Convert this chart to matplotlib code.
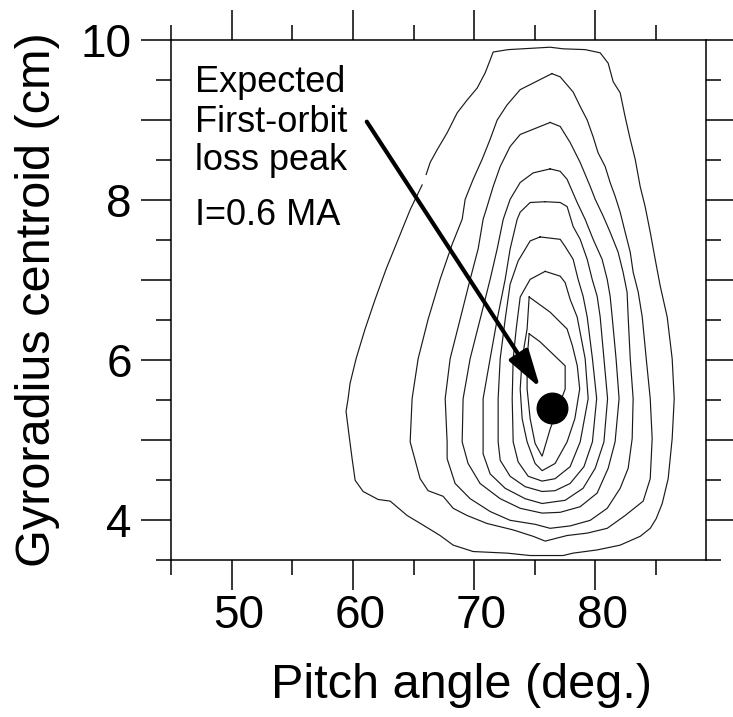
import matplotlib
matplotlib.use('Agg')
import matplotlib.pyplot as plt
import matplotlib.transforms as mtransforms
from matplotlib.patches import FancyArrowPatch
from matplotlib.ticker import FixedLocator, FuncFormatter

plt.rcParams['font.family'] = ['Liberation Sans', 'DejaVu Sans']

# contour rings of the loss distribution, outermost first (pitch deg, gyroradius cm)
ring1_pitch = [66.03, 66.36, 66.94, 67.76, 68.59, 69.41, 70.24, 70.90, 71.31, 71.56, 72.80, 76.26, 77.33, 79.15,
               80.39, 81.05, 81.46, 82.04, 82.45, 82.87, 83.28, 83.69, 84.10, 84.52, 84.93, 85.34, 85.92, 86.33,
               86.50, 86.33, 86.00, 85.51, 85.01, 84.52, 83.69, 82.04, 80.14, 78.16, 77.33, 75.43, 74.61, 72.71,
               69.91, 68.26, 67.18, 65.78, 64.46, 63.06, 62.07, 60.83, 60.17, 59.92, 59.67, 59.42, 59.59, 59.75,
               60.25, 60.99, 61.82, 62.73, 63.72, 64.71, 65.70]
ring1_gyro = [8.32, 8.47, 8.63, 8.84, 9.09, 9.25, 9.40, 9.59, 9.75, 9.85, 9.88, 9.91, 9.89, 9.88,
              9.84, 9.71, 9.48, 9.34, 9.04, 8.76, 8.51, 8.17, 7.92, 7.60, 7.26, 6.93, 6.54, 6.02,
              5.52, 5.02, 4.52, 4.21, 4.02, 3.90, 3.80, 3.69, 3.63, 3.59, 3.56, 3.56, 3.56, 3.59,
              3.61, 3.69, 3.81, 3.94, 4.06, 4.24, 4.26, 4.36, 4.50, 4.77, 5.06, 5.36, 5.52, 5.71,
              6.02, 6.39, 6.76, 7.14, 7.51, 7.88, 8.19]

ring2_pitch = [76.40, 77.09, 78.16, 78.74, 79.32, 79.81, 80.22, 80.80, 81.21, 81.62, 82.04, 82.45, 82.87, 83.11,
               83.53, 83.86, 84.19, 84.52, 84.68, 84.52, 83.94, 82.45, 80.97, 79.32, 77.66, 75.85, 74.86, 73.21,
               71.06, 69.41, 68.26, 67.43, 66.19, 65.53, 64.71, 64.87, 65.37, 66.19, 67.18, 68.18, 69.00, 69.25,
               69.91, 70.65, 71.31, 71.89, 72.71, 73.79]
ring2_gyro = [9.58, 9.54, 9.35, 9.17, 9.00, 8.79, 8.59, 8.42, 8.22, 8.05, 7.85, 7.60, 7.35, 7.10,
              6.85, 6.54, 6.02, 5.52, 5.02, 4.52, 4.24, 4.06, 3.90, 3.84, 3.81, 3.74, 3.80, 3.88,
              3.96, 4.06, 4.15, 4.30, 4.37, 4.52, 4.98, 5.52, 6.02, 6.51, 7.01, 7.45, 7.76, 8.01,
              8.26, 8.51, 8.76, 9.00, 9.19, 9.38]

ring3_pitch = [76.26, 77.09, 77.91, 78.74, 79.57, 79.98, 80.64, 81.21, 81.87, 82.28, 82.61, 82.70, 82.87, 83.11,
               83.03, 82.70, 82.04, 80.97, 79.57, 77.91, 76.26, 75.02, 72.96, 71.31, 69.66, 68.42, 67.76, 67.76,
               67.60, 68.01, 68.83, 69.66, 70.32, 70.73, 71.06, 71.56, 72.14, 72.96, 73.79]
ring3_gyro = [8.97, 8.92, 8.72, 8.47, 8.17, 8.01, 7.80, 7.60, 7.35, 7.10, 6.85, 6.54, 6.02, 5.52,
              5.02, 4.65, 4.40, 4.15, 4.00, 3.93, 3.90, 3.95, 4.00, 4.11, 4.27, 4.46, 4.77, 4.98,
              5.52, 6.02, 6.51, 7.01, 7.39, 7.76, 7.92, 8.17, 8.42, 8.67, 8.82]

ring4_pitch = [76.26, 77.09, 77.66, 78.49, 79.15, 79.81, 80.55, 80.97, 81.21, 81.38, 81.70, 81.95, 81.62, 81.05,
               80.14, 78.74, 77.09, 75.60, 73.79, 72.14, 70.48, 69.49, 69.00, 69.08, 69.66, 70.48, 71.31, 71.89,
               72.39, 72.96, 73.79, 74.86]
ring4_gyro = [8.39, 8.36, 8.26, 7.97, 7.76, 7.51, 7.26, 7.01, 6.80, 6.54, 6.02, 5.52, 4.98, 4.65,
              4.34, 4.17, 4.10, 4.09, 4.15, 4.27, 4.46, 4.71, 4.98, 5.52, 6.02, 6.51, 7.01, 7.39,
              7.76, 8.01, 8.22, 8.34]

ring5_pitch = [75.85, 77.09, 77.66, 78.16, 78.74, 79.32, 79.73, 80.14, 80.39, 80.70, 81.00, 80.70, 79.98, 78.98,
               77.50, 75.60, 74.20, 72.55, 71.31, 70.73, 70.73, 70.73, 71.31, 71.89, 72.55, 72.96, 73.54, 73.79,
               74.61]
ring5_gyro = [7.98, 7.97, 7.92, 7.67, 7.51, 7.26, 7.01, 6.80, 6.54, 6.02, 5.52, 4.98, 4.65, 4.40,
              4.25, 4.21, 4.27, 4.40, 4.58, 4.83, 4.98, 5.52, 6.02, 6.51, 7.01, 7.39, 7.76, 7.85,
              7.97]

ring6_pitch = [75.43, 77.09, 77.50, 78.16, 78.57, 78.98, 79.32, 79.75, 80.10, 79.75, 79.05, 77.91, 76.67, 75.60,
               74.20, 72.96, 72.14, 71.97, 71.97, 72.14, 72.55, 72.96, 73.62, 74.61]
ring6_gyro = [7.54, 7.51, 7.42, 7.26, 7.01, 6.80, 6.54, 6.02, 5.52, 4.98, 4.67, 4.46, 4.37, 4.36,
              4.42, 4.55, 4.75, 4.98, 5.52, 6.02, 6.51, 6.95, 7.24, 7.49]

ring7_pitch = [75.85, 77.09, 77.50, 77.91, 78.49, 79.15, 79.40, 78.74, 77.91, 76.67, 75.60, 74.45, 73.62, 73.21,
               73.13, 73.21, 73.46, 73.79, 74.61]
ring7_gyro = [7.11, 7.05, 6.97, 6.76, 6.54, 6.02, 5.52, 4.98, 4.67, 4.52, 4.49, 4.55, 4.73, 4.98,
              5.52, 6.02, 6.39, 6.79, 7.01]

ring8_pitch = [74.53, 76.26, 77.66, 78.10, 78.50, 78.70, 78.30, 77.66, 76.67, 75.60, 75.02, 74.36, 73.95, 73.79,
               73.95, 74.36]
ring8_gyro = [6.79, 6.60, 6.39, 6.18, 5.93, 5.64, 5.27, 4.98, 4.71, 4.62, 4.71, 4.98, 5.27, 5.64,
              6.02, 6.39]

ring9_pitch = [74.53, 75.43, 77.50, 77.50, 76.26, 75.60, 75.02, 74.61, 74.36, 74.36]
ring9_gyro = [6.33, 6.23, 5.93, 5.64, 5.14, 4.80, 4.96, 5.27, 5.64, 6.02]

# measured peak and the expected first-orbit loss point
peak_pitch = [76.4]
peak_gyro = [5.4]
arrow_from = (61.13, 8.98)
arrow_to = (75.44, 5.655)

x_major = [50, 60, 70, 80]
x_minor = [45, 55, 65, 75, 85]
y_major = [4, 5, 6, 7, 8, 9, 10]
y_minor = [3.5, 4.5, 5.5, 6.5, 7.5, 8.5, 9.5]

fig = plt.figure(figsize=(7.33, 7.17), dpi=100)
ax = fig.add_axes([0.2337, 0.2185, 0.7291, 0.7257])

rings = [(ring1_pitch, ring1_gyro, False),
         (ring2_pitch, ring2_gyro, True),
         (ring3_pitch, ring3_gyro, True),
         (ring4_pitch, ring4_gyro, True),
         (ring5_pitch, ring5_gyro, True),
         (ring6_pitch, ring6_gyro, True),
         (ring7_pitch, ring7_gyro, True),
         (ring8_pitch, ring8_gyro, True),
         (ring9_pitch, ring9_gyro, True)]
for px, gy, closed in rings:
    if closed:
        px = px + px[:1]
        gy = gy + gy[:1]
    ax.plot(px, gy, color='#1a1a1a', lw=0.85, solid_joinstyle='miter')

ax.plot(peak_pitch, peak_gyro, 'o', ms=22, color='k', zorder=5)

arr = FancyArrowPatch(arrow_from, arrow_to,
                      arrowstyle='-|>,head_length=1.15,head_width=0.34',
                      mutation_scale=20, lw=3, color='k',
                      shrinkA=0, shrinkB=0, zorder=6)
ax.add_patch(arr)

txt_kw = dict(transform=ax.transAxes, fontsize=26, va='baseline', ha='left')
ax.text(0.0443, 0.9006, 'Expected', **txt_kw)
ax.text(0.0443, 0.8237, 'First-orbit', **txt_kw)
ax.text(0.0443, 0.7501, 'loss peak', **txt_kw)
ax.text(0.0443, 0.6444, 'I=0.6 MA', **txt_kw)

ax.set_xlim(45, 89.1)
ax.set_ylim(3.5, 10)
ax.xaxis.set_major_locator(FixedLocator(x_major))
ax.xaxis.set_minor_locator(FixedLocator(x_minor))
ax.yaxis.set_major_locator(FixedLocator(y_major))
ax.yaxis.set_minor_locator(FixedLocator(y_minor))
ax.yaxis.set_major_formatter(FuncFormatter(lambda v, p: '%d' % v if v % 2 == 0 else ''))

ax.tick_params(which='major', direction='out', length=21.5, width=1.1,
               top=True, right=True, labelsize=33, pad=3)
ax.tick_params(axis='y', which='major', pad=7)
ax.tick_params(which='minor', direction='out', length=11, width=1.1,
               top=True, right=True)
for s in ax.spines.values():
    s.set_linewidth(1.1)

# bottom numbers sit a little right of their ticks
shift = mtransforms.ScaledTranslation(0.07, 0, fig.dpi_scale_trans)
for t in ax.xaxis.get_major_ticks():
    t.label1.set_transform(t.label1.get_transform() + shift)

fig.text(0.629, 0.0446, 'Pitch angle (deg.)', ha='center', va='center', fontsize=35)
fig.text(0.0505, 0.5816, 'Gyroradius centroid (cm)', rotation=90,
         ha='center', va='center', fontsize=35)

fig.savefig('out.png', dpi=100)
